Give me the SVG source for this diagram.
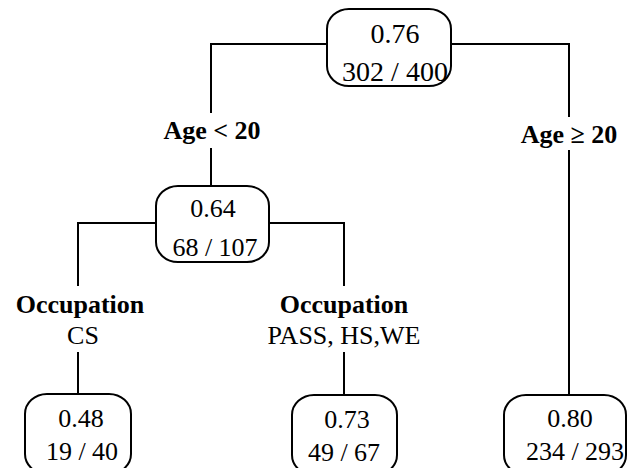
<svg xmlns="http://www.w3.org/2000/svg" width="627" height="468" viewBox="0 0 627 468">
<style>
.box{fill:#fff;stroke:#000;stroke-width:2}
.ln{fill:none;stroke:#000;stroke-width:2}
.num{font-family:"Liberation Serif","Times New Roman",serif;font-size:26px;fill:#000;text-anchor:middle}
.big{font-size:28px}
.lbl{font-family:"Liberation Serif","Times New Roman",serif;font-size:26px;font-weight:bold;fill:#000;text-anchor:middle}
.val{font-family:"Liberation Serif","Times New Roman",serif;font-size:26px;fill:#000;text-anchor:middle}
</style>
<rect width="627" height="468" fill="#fff"/>
<g id="connectors">
<polyline class="ln" points="327,44 211,44 211,113"/>
<line class="ln" x1="211" y1="148" x2="211" y2="186"/>
<polyline class="ln" points="451,44 569,44 569,117"/>
<line class="ln" x1="569" y1="150" x2="569" y2="395"/>
<polyline class="ln" points="156,223 78,223 78,286"/>
<line class="ln" x1="78" y1="352" x2="78" y2="394"/>
<polyline class="ln" points="269,223 344,223 344,286"/>
<line class="ln" x1="344" y1="352" x2="344" y2="395"/>
</g>
<g id="edge-labels">
<text class="lbl" x="212" y="139">Age &lt; 20</text>
<text class="lbl" x="569" y="143">Age ≥ 20</text>
<text class="lbl" x="80" y="313">Occupation</text>
<text class="val" x="83" y="344">CS</text>
<text class="lbl" x="344" y="313">Occupation</text>
<text class="val" x="344" y="344">PASS, HS,WE</text>
</g>
<g id="root">
<rect class="box" x="327" y="9" width="124" height="77" rx="22" ry="20"/>
<text class="num big" x="395" y="43">0.76</text>
<text class="num big" x="395" y="81">302 / 400</text>
</g>
<g id="node-age-lt-20">
<rect class="box" x="156" y="186" width="113" height="76" rx="22" ry="20"/>
<text class="num" x="213" y="217">0.64</text>
<text class="num" x="215" y="256">68 / 107</text>
</g>
<g id="node-cs">
<rect class="box" x="25" y="394" width="106" height="80" rx="22" ry="20"/>
<text class="num" x="81" y="427">0.48</text>
<text class="num" x="82" y="460">19 / 40</text>
</g>
<g id="node-pass">
<rect class="box" x="292" y="395" width="105" height="80" rx="22" ry="20"/>
<text class="num" x="347" y="428">0.73</text>
<text class="num" x="344" y="461">49 / 67</text>
</g>
<g id="node-age-ge-20">
<rect class="box" x="504" y="395" width="122" height="80" rx="22" ry="20"/>
<text class="num" x="570" y="427">0.80</text>
<text class="num" x="575" y="460">234 / 293</text>
</g>
</svg>
